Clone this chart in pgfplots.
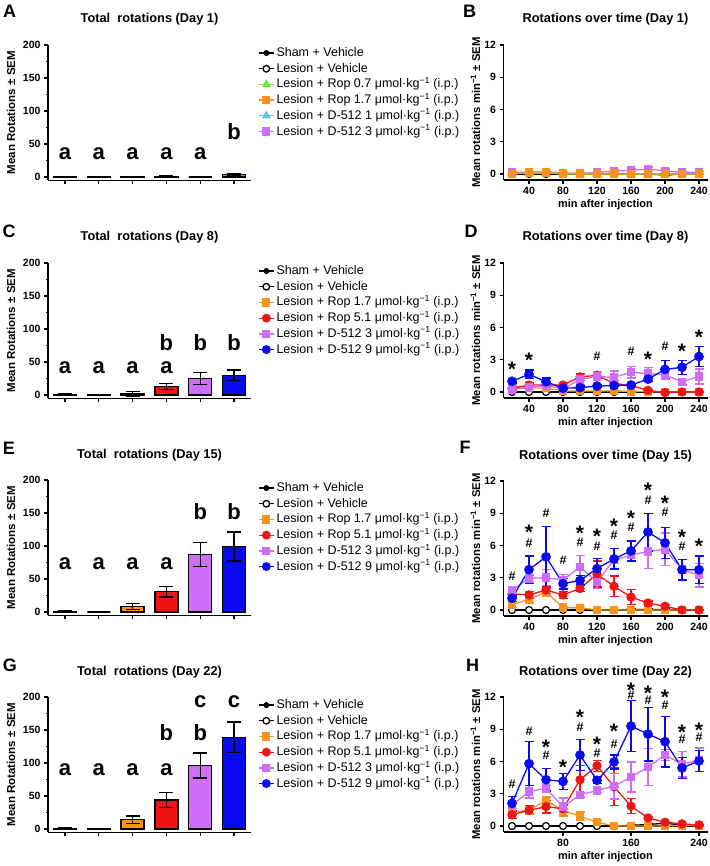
\documentclass[border=0pt]{standalone}
\usepackage{fontspec}
\setmainfont{Liberation Sans}
\usepackage{pgfplots}
\pgfplotsset{compat=1.18}
\usepackage{pgfplotstable}

\definecolor{cOr}{RGB}{247,148,29}
\definecolor{cRd}{RGB}{240,20,20}
\definecolor{cVi}{RGB}{204,110,250}
\definecolor{cBl}{RGB}{10,10,240}
\definecolor{cGr}{RGB}{110,235,50}
\definecolor{cLb}{RGB}{100,195,250}

% Day 1 time course
\pgfplotstableread{
t   sh    le  gr   or   lb   vi   esh  egr  eor  elb  evi
20  0.00  0   0.10 0.00 0.05 0.15 0.03 0.08 0.08 0.05 0.10
40  0.00  0   0.10 0.15 0.05 0.15 0.03 0.08 0.10 0.05 0.10
60  0.00  0   0.10 0.15 0.10 0.20 0.03 0.08 0.10 0.05 0.12
80  0.00  0   0.05 0.05 0.00 0.10 0.03 0.05 0.05 0.05 0.08
100 0.00  0   0.00 0.05 0.00 0.05 0.03 0.05 0.05 0.05 0.05
120 0.00  0   0.00 0.00 0.00 0.15 0.03 0.05 0.05 0.05 0.10
140 0.00  0   0.00 0.05 0.05 0.25 0.03 0.05 0.05 0.05 0.12
160 0.00  0   0.00 0.00 0.00 0.35 0.03 0.05 0.05 0.05 0.15
180 0.00  0   0.00 0.00 0.00 0.45 0.03 0.05 0.05 0.05 0.20
200 -0.10 0   0.00 0.00 0.00 0.30 0.05 0.05 0.05 0.05 0.15
220 0.00  0   0.00 0.00 0.00 0.15 0.03 0.05 0.05 0.05 0.10
240 0.00  0   0.00 0.00 0.00 0.15 0.03 0.05 0.05 0.05 0.10
}\tabB
% Day 8
\pgfplotstableread{
t   sh    le or   rd    vi   bl   esh  eor  erd  evi  ebl
20  0     0  0.55 0.30  0.25 1.00 0.03 0.20 0.20 0.15 0.15
40  0     0  0.40 0.65  0.40 1.65 0.03 0.15 0.20 0.15 0.40
60  0     0  0.35 0.65  0.60 0.95 0.03 0.15 0.20 0.20 0.35
80  0     0  0.10 0.65  0.30 0.35 0.03 0.05 0.15 0.15 0.10
100 0     0  0.10 1.40  1.15 0.40 0.03 0.05 0.30 0.50 0.15
120 0     0  0.10 1.55  1.45 0.55 0.03 0.05 0.30 0.40 0.10
140 0     0  0.10 0.80  1.35 0.60 0.03 0.05 0.25 0.60 0.10
160 0     0  0.05 0.60  1.85 0.65 0.03 0.05 0.15 0.55 0.10
180 0     0  0.05 0.15  1.70 1.20 0.03 0.05 0.10 0.60 0.20
200 -0.05 0  0.00 -0.05 1.60 2.10 0.03 0.05 0.05 0.40 0.85
220 0     0  0.00 0.00  0.95 2.30 0.03 0.05 0.05 0.30 0.65
240 0     0  0.00 0.00  1.45 3.30 0.03 0.05 0.05 0.70 0.90
}\tabD
% Day 15
\pgfplotstableread{
t   sh    le or   rd   vi   bl   esh  eor  erd  evi  ebl
20  0     0  0.50 1.50 1.85 1.10 0.03 0.30 0.30 0.30 0.30
40  0     0  1.00 1.40 2.95 3.75 0.03 0.35 0.30 0.30 1.27
60  0     0  1.65 1.85 3.00 4.95 0.03 0.35 0.30 0.75 2.85
80  0.05  0  0.25 1.40 2.80 2.45 0.03 0.10 0.30 0.50 0.50
100 0.05  0  0.20 2.00 4.00 2.75 0.03 0.10 0.30 1.10 0.43
120 0     0  0.00 3.35 2.60 3.85 0.03 0.05 1.20 0.60 0.95
140 0     0  0.00 2.20 4.65 4.75 0.03 0.05 0.95 0.30 0.95
160 0.05  0  0.00 1.20 5.10 5.50 0.03 0.05 0.70 0.30 0.93
180 0.05  0  0.00 0.65 5.45 7.25 0.03 0.05 0.20 1.60 1.75
200 0.05  0  0.00 0.35 5.65 6.25 0.03 0.05 0.15 1.50 1.45
220 0     0  0.00 0.00 3.75 3.75 0.03 0.05 0.05 0.30 0.95
240 0     0  0.00 0.00 3.25 3.75 0.03 0.05 0.05 1.10 1.27
}\tabF
% Day 22
\pgfplotstableread{
t   sh    le or   rd   vi   bl   esh  eor  erd  evi  ebl
20  0     0  1.30 1.05 1.95 2.10 0.03 0.30 0.35 0.30 0.65
40  0     0  1.45 1.45 3.20 5.80 0.03 0.30 0.40 0.60 2.05
60  0     0  2.40 1.80 3.50 4.30 0.03 0.30 0.60 0.30 1.05
80  0     0  1.45 1.60 1.80 4.15 0.03 0.55 0.35 0.80 0.75
100 0     0  0.90 4.30 2.90 6.60 0.03 0.40 1.30 0.20 1.45
120 0     0  0.35 5.60 3.30 4.25 0.03 0.15 0.50 0.20 0.30
140 0     0  0.00 3.65 3.70 5.95 0.03 0.05 1.75 1.20 0.65
160 0.05  0  0.00 1.85 4.55 9.30 0.03 0.05 0.70 1.40 2.35
180 0.15  0  0.00 0.75 5.50 8.55 0.03 0.05 0.15 1.70 2.50
200 0.25  0  0.00 0.35 6.60 7.85 0.03 0.05 0.10 0.50 2.35
220 0.10  0  0.05 0.20 5.75 5.40 0.03 0.05 0.05 1.20 0.95
240 0     0  0.05 0.10 6.15 6.05 0.03 0.05 0.05 1.10 0.95
}\tabH

\tikzset{
  lSh/.style={black, line width=1.3pt, mark=*, mark size=2.3pt},
  lLe/.style={black, line width=1.3pt, mark=*, mark size=3.3pt, mark options={fill=white, draw=black}},
  lOr/.style={cOr, line width=1.3pt, mark=square*, mark size=3.4pt},
  lRd/.style={cRd, line width=1.3pt, mark=*, mark size=3.8pt},
  lVi/.style={cVi, line width=1.3pt, mark=square*, mark size=3.4pt},
  lBl/.style={cBl, line width=1.3pt, mark=*, mark size=3.8pt},
  lGr/.style={cGr, line width=1.3pt, mark=triangle*, mark size=4pt},
  lLb/.style={cLb, line width=1.3pt, mark=triangle*, mark size=4pt},
  lt/.style={font=\bfseries\fontsize{22}{22}\selectfont, inner sep=0pt},
  st/.style={font=\bfseries\fontsize{21}{21}\selectfont, inner sep=0pt, yshift=-4.2pt},
  hs/.style={font=\bfseries\fontsize{12.5}{13}\selectfont, inner sep=0pt},
  pl/.style={font=\bfseries\fontsize{18}{18}\selectfont, inner sep=0pt},
  yl/.style={font=\bfseries\fontsize{11.5}{13}\selectfont, rotate=90, anchor=center, inner sep=0pt},
}

\pgfplotsset{
  prism/.style={
    scale only axis, clip=false,
    axis x line*=bottom, axis y line*=left,
    axis line style={line width=1.3pt},
    every tick/.style={black, line width=1.2pt},
    major tick length=4pt, minor tick length=2.5pt,
    tick align=outside,
    ticklabel style={font=\bfseries\fontsize{10.5}{12}\selectfont},
    /pgf/number format/assume math mode=true,
    title style={font=\bfseries\fontsize{12.8}{14}\selectfont, at={(0.5,1)}, anchor=base, yshift=16pt},
    every axis x label/.style={at={(0.5,0)}, anchor=center, yshift=-25pt, font=\bfseries\fontsize{11}{12}\selectfont},
  },
  barax/.style={prism, width=203pt, height=135.3pt,
    xmin=0.5, xmax=6.5, ymin=-5, ymax=200,
    ytick={0,50,...,200}, minor y tick num=1,
    xtick={1,...,6}, xticklabels={},
    legend image code/.code={\draw[mark repeat=2,mark phase=2,##1] plot coordinates {(0pt,0pt) (7.5pt,0pt) (15pt,0pt)};},
    legend cell align=left,
    legend style={draw=none, fill=none, at={(1,1)}, anchor=north west, xshift=7pt, yshift=0pt,
      inner sep=0pt, row sep=0pt, font=\fontsize{12.5}{15}\selectfont,
      nodes={text height=10pt, text depth=3pt, inner ysep=1.35pt}},
  },
  lineax/.style={prism, width=204pt, height=134.9pt,
    xmin=10, xmax=250, ymin=-0.55, ymax=12,
    ytick={0,3,...,12}, xtick={40,80,...,240},
    xlabel={min after injection},
  },
  bar/.style={ybar, bar width=23pt, bar shift=0pt, draw=black, line width=1.4pt,
    /pgfplots/error bars/y dir=both, /pgfplots/error bars/y explicit,
    /pgfplots/error bars/error bar style={line width=1.4pt, black},
    /pgfplots/error bars/error mark options={rotate=90, line width=1.4pt, black, mark size=7pt}},
  ser/.style={line width=1.3pt,
    /pgfplots/error bars/y dir=both, /pgfplots/error bars/y explicit,
    /pgfplots/error bars/error bar style={line width=1.3pt},
    /pgfplots/error bars/error mark options={rotate=90, line width=1.3pt, mark size=4.5pt}},
  sSh/.style={ser, black, mark=*, mark size=2.3pt},
  sLe/.style={ser, black, mark=*, mark size=3.5pt, mark options={fill=white, draw=black, line width=1.2pt}},
  sOr/.style={ser, cOr, mark=square*, mark size=3.6pt},
  sRd/.style={ser, cRd, mark=*, mark size=4pt},
  sVi/.style={ser, cVi, mark=square*, mark size=3.6pt},
  sBl/.style={ser, cBl, mark=*, mark size=4.2pt},
  sGr/.style={ser, cGr, mark=triangle*, mark size=4.2pt},
  sLb/.style={ser, cLb, mark=triangle*, mark size=4.2pt},
}

\newcommand{\ylabBar}{\node[yl] at ([xshift=-37pt]rel axis cs:0,0.5) {Mean Rotations ± SEM};}
\newcommand{\ylabLine}{\node[yl, font=\bfseries\fontsize{11.3}{13}\selectfont] at ([xshift=-28pt]rel axis cs:0,0.5) {Mean rotations min\textsuperscript{−1} ± SEM};}
\newcommand{\um}{μmol·kg\textsuperscript{−1} (i.p.)}

\begin{document}
\begin{tikzpicture}
\path[use as bounding box] (0pt,0pt) rectangle (709pt,-866pt);

% panel letters
\node[pl] at (9.5pt,-11.5pt) {A};
\node[pl] at (469.5pt,-11.5pt) {B};
\node[pl] at (9pt,-231.5pt) {C};
\node[pl] at (471pt,-231.5pt) {D};
\node[pl] at (9pt,-448.5pt) {E};
\node[pl] at (465pt,-447.5pt) {F};
\node[pl] at (10pt,-665pt) {G};
\node[pl] at (472.5pt,-665.5pt) {H};

% ---------------- A ----------------
\begin{axis}[barax, at={(48pt,-45pt)}, anchor=north west, title={Total\ \ rotations (Day 1)}]
\addlegendimage{lSh}\addlegendentry{Sham + Vehicle}
\addlegendimage{lLe}\addlegendentry{Lesion + Vehicle}
\addlegendimage{lGr}\addlegendentry{Lesion + Rop 0.7 \um}
\addlegendimage{lOr}\addlegendentry{Lesion + Rop 1.7 \um}
\addlegendimage{lLb}\addlegendentry{Lesion + D-512 1 \um}
\addlegendimage{lVi}\addlegendentry{Lesion + D-512 3 \um}
\addplot[bar, fill=black, forget plot] coordinates {(1,0.5) +- (0,0.5)};
\addplot[bar, fill=white, forget plot] coordinates {(2,-0.5) +- (0,0.5)};
\addplot[bar, fill=cGr, forget plot] coordinates {(3,0.3) +- (0,0.5)};
\addplot[bar, fill=cOr, forget plot] coordinates {(4,1.2) +- (0,0.8)};
\addplot[bar, fill=cLb, forget plot] coordinates {(5,0) +- (0,0.3)};
\addplot[bar, fill=cVi, forget plot] coordinates {(6,3.5) +- (0,2)};
\node[lt] at (axis cs:1,36) {a};
\node[lt] at (axis cs:2,36) {a};
\node[lt] at (axis cs:3,36) {a};
\node[lt] at (axis cs:4,36) {a};
\node[lt] at (axis cs:5,36) {a};
\node[lt] at (axis cs:6,69) {b};
\ylabBar
\end{axis}

% ---------------- B ----------------
\begin{axis}[lineax, at={(503.5pt,-45pt)}, anchor=north west, title={Rotations over time (Day 1)}]
\addplot[sSh] table[x=t,y=sh,y error=esh] {\tabB};
\addplot[sLe] table[x=t,y=le,y error=esh] {\tabB};
\addplot[sLb] table[x=t,y=lb,y error=elb] {\tabB};
\addplot[sGr] table[x=t,y=gr,y error=egr] {\tabB};
\addplot[sVi] table[x=t,y=vi,y error=evi] {\tabB};
\addplot[sOr] table[x=t,y=or,y error=eor] {\tabB};
\ylabLine
\end{axis}

% ---------------- C ----------------
\begin{axis}[barax, at={(48pt,-263pt)}, anchor=north west, title={Total\ \ rotations (Day 8)}]
\addlegendimage{lSh}\addlegendentry{Sham + Vehicle}
\addlegendimage{lLe}\addlegendentry{Lesion + Vehicle}
\addlegendimage{lOr}\addlegendentry{Lesion + Rop 1.7 \um}
\addlegendimage{lRd}\addlegendentry{Lesion + Rop 5.1 \um}
\addlegendimage{lVi}\addlegendentry{Lesion + D-512 3 \um}
\addlegendimage{lBl}\addlegendentry{Lesion + D-512 9 \um}
\addplot[bar, fill=black, forget plot] coordinates {(1,1) +- (0,0.5)};
\addplot[bar, fill=white, forget plot] coordinates {(2,-0.5) +- (0,0.5)};
\addplot[bar, fill=cOr, forget plot] coordinates {(3,2) +- (0,3.5)};
\addplot[bar, fill=cRd, forget plot] coordinates {(4,13) +- (0,4.5)};
\addplot[bar, fill=cVi, forget plot] coordinates {(5,25) +- (0,9)};
\addplot[bar, fill=cBl, forget plot] coordinates {(6,30) +- (0,8)};
\node[lt] at (axis cs:1,42) {a};
\node[lt] at (axis cs:2,42) {a};
\node[lt] at (axis cs:3,42) {a};
\node[lt] at (axis cs:4,42) {a};
\node[lt] at (axis cs:4,79) {b};
\node[lt] at (axis cs:5,79) {b};
\node[lt] at (axis cs:6,79) {b};
\ylabBar
\end{axis}

% ---------------- D ----------------
\begin{axis}[lineax, at={(503.5pt,-263pt)}, anchor=north west, title={Rotations over time (Day 8)}]
\addplot[sSh] table[x=t,y=sh,y error=esh] {\tabD};
\addplot[sLe] table[x=t,y=le,y error=esh] {\tabD};
\addplot[sOr] table[x=t,y=or,y error=eor] {\tabD};
\addplot[sRd] table[x=t,y=rd,y error=erd] {\tabD};
\addplot[sVi] table[x=t,y=vi,y error=evi] {\tabD};
\addplot[sBl] table[x=t,y=bl,y error=ebl] {\tabD};
\node[st] at (axis cs:20,2.53) {*};
\node[st] at (axis cs:40,3.3) {*};
\node[hs] at (axis cs:120,3.37) {\#};
\node[hs] at (axis cs:160,3.77) {\#};
\node[st] at (axis cs:180,3.46) {*};
\node[hs] at (axis cs:200,4.3) {\#};
\node[st] at (axis cs:220,4.17) {*};
\node[st] at (axis cs:240,5.5) {*};
\ylabLine
\end{axis}

% ---------------- E ----------------
\begin{axis}[barax, at={(48pt,-480pt)}, anchor=north west, title={Total\ \ rotations (Day 15)}]
\addlegendimage{lSh}\addlegendentry{Sham + Vehicle}
\addlegendimage{lLe}\addlegendentry{Lesion + Vehicle}
\addlegendimage{lOr}\addlegendentry{Lesion + Rop 1.7 \um}
\addlegendimage{lRd}\addlegendentry{Lesion + Rop 5.1 \um}
\addlegendimage{lVi}\addlegendentry{Lesion + D-512 3 \um}
\addlegendimage{lBl}\addlegendentry{Lesion + D-512 9 \um}
\addplot[bar, fill=black, forget plot] coordinates {(1,0.8) +- (0,0.5)};
\addplot[bar, fill=white, forget plot] coordinates {(2,0) +- (0,0.3)};
\addplot[bar, fill=cOr, forget plot] coordinates {(3,8) +- (0,4.5)};
\addplot[bar, fill=cRd, forget plot] coordinates {(4,31) +- (0,8)};
\addplot[bar, fill=cVi, forget plot] coordinates {(5,87) +- (0,18.5)};
\addplot[bar, fill=cBl, forget plot] coordinates {(6,99) +- (0,22)};
\node[lt] at (axis cs:1,73) {a};
\node[lt] at (axis cs:2,73) {a};
\node[lt] at (axis cs:3,73) {a};
\node[lt] at (axis cs:4,73) {a};
\node[lt] at (axis cs:5,152) {b};
\node[lt] at (axis cs:6,152) {b};
\ylabBar
\end{axis}

% ---------------- F ----------------
\begin{axis}[lineax, at={(503.5pt,-481pt)}, anchor=north west, title={Rotations over time (Day 15)}]
\addplot[sSh] table[x=t,y=sh,y error=esh] {\tabF};
\addplot[sLe] table[x=t,y=le,y error=esh] {\tabF};
\addplot[sOr] table[x=t,y=or,y error=eor] {\tabF};
\addplot[sRd] table[x=t,y=rd,y error=erd] {\tabF};
\addplot[sVi] table[x=t,y=vi,y error=evi] {\tabF};
\addplot[sBl] table[x=t,y=bl,y error=ebl] {\tabF};
\node[hs] at (axis cs:20,3.1) {\#};
\node[st] at (axis cs:40,7.6) {*};   \node[hs] at (axis cs:40,6.2) {\#};
\node[hs] at (axis cs:60,9.0) {\#};
\node[hs] at (axis cs:80,4.64) {\#};
\node[st] at (axis cs:100,7.5) {*};  \node[hs] at (axis cs:100,6.28) {\#};
\node[st] at (axis cs:120,7.27) {*}; \node[hs] at (axis cs:120,5.97) {\#};
\node[st] at (axis cs:140,8.2) {*};  \node[hs] at (axis cs:140,6.96) {\#};
\node[st] at (axis cs:160,8.9) {*};  \node[hs] at (axis cs:160,7.67) {\#};
\node[st] at (axis cs:180,11.5) {*}; \node[hs] at (axis cs:180,10.2) {\#};
\node[st] at (axis cs:200,10.3) {*}; \node[hs] at (axis cs:200,9.06) {\#};
\node[st] at (axis cs:220,7.2) {*};  \node[hs] at (axis cs:220,5.9) {\#};
\node[st] at (axis cs:240,6.28) {*};
\ylabLine
\end{axis}

% ---------------- G ----------------
\begin{axis}[barax, at={(48pt,-697pt)}, anchor=north west, title={Total\ \ rotations (Day 22)}]
\addlegendimage{lSh}\addlegendentry{Sham + Vehicle}
\addlegendimage{lLe}\addlegendentry{Lesion + Vehicle}
\addlegendimage{lOr}\addlegendentry{Lesion + Rop 1.7 \um}
\addlegendimage{lRd}\addlegendentry{Lesion + Rop 5.1 \um}
\addlegendimage{lVi}\addlegendentry{Lesion + D-512 3 \um}
\addlegendimage{lBl}\addlegendentry{Lesion + D-512 9 \um}
\addplot[bar, fill=black, forget plot] coordinates {(1,1) +- (0,0.7)};
\addplot[bar, fill=white, forget plot] coordinates {(2,-0.5) +- (0,0.5)};
\addplot[bar, fill=cOr, forget plot] coordinates {(3,14) +- (0,6)};
\addplot[bar, fill=cRd, forget plot] coordinates {(4,44) +- (0,11)};
\addplot[bar, fill=cVi, forget plot] coordinates {(5,96) +- (0,19)};
\addplot[bar, fill=cBl, forget plot] coordinates {(6,139) +- (0,23)};
\node[lt] at (axis cs:1,89.5) {a};
\node[lt] at (axis cs:2,89.5) {a};
\node[lt] at (axis cs:3,89.5) {a};
\node[lt] at (axis cs:4,89.5) {a};
\node[lt] at (axis cs:4,146) {b};
\node[lt] at (axis cs:5,146) {b};
\node[lt] at (axis cs:5,193.5) {c};
\node[lt] at (axis cs:6,193.5) {c};
\ylabBar
\end{axis}

% ---------------- H ----------------
\begin{axis}[lineax, at={(503.5pt,-697pt)}, anchor=north west, title={Rotations over time (Day 22)}, xtick={80,160,240}]
\addplot[sSh] table[x=t,y=sh,y error=esh] {\tabH};
\addplot[sLe] table[x=t,y=le,y error=esh] {\tabH};
\addplot[sOr] table[x=t,y=or,y error=eor] {\tabH};
\addplot[sRd] table[x=t,y=rd,y error=erd] {\tabH};
\addplot[sVi] table[x=t,y=vi,y error=evi] {\tabH};
\addplot[sBl] table[x=t,y=bl,y error=ebl] {\tabH};
\node[hs] at (axis cs:20,3.85) {\#};
\node[hs] at (axis cs:40,8.86) {\#};
\node[st] at (axis cs:60,7.7) {*};   \node[hs] at (axis cs:60,6.55) {\#};
\node[st] at (axis cs:80,5.85) {*};
\node[st] at (axis cs:100,10.46) {*}; \node[hs] at (axis cs:100,9.17) {\#};
\node[st] at (axis cs:120,8.0) {*};   \node[hs] at (axis cs:120,6.77) {\#};
\node[st] at (axis cs:140,9.17) {*};  \node[hs] at (axis cs:140,7.63) {\#};
\node[st] at (axis cs:160,13.0) {*};  \node[hs] at (axis cs:160,12.2) {\#};
\node[st] at (axis cs:180,12.7) {*};  \node[hs] at (axis cs:180,11.7) {\#};
\node[st] at (axis cs:200,12.4) {*};  \node[hs] at (axis cs:200,11.25) {\#};
\node[st] at (axis cs:220,9.1) {*};   \node[hs] at (axis cs:220,8.1) {\#};
\node[st] at (axis cs:240,9.27) {*};  \node[hs] at (axis cs:240,8.26) {\#};
\ylabLine
\end{axis}
\end{tikzpicture}
\end{document}
